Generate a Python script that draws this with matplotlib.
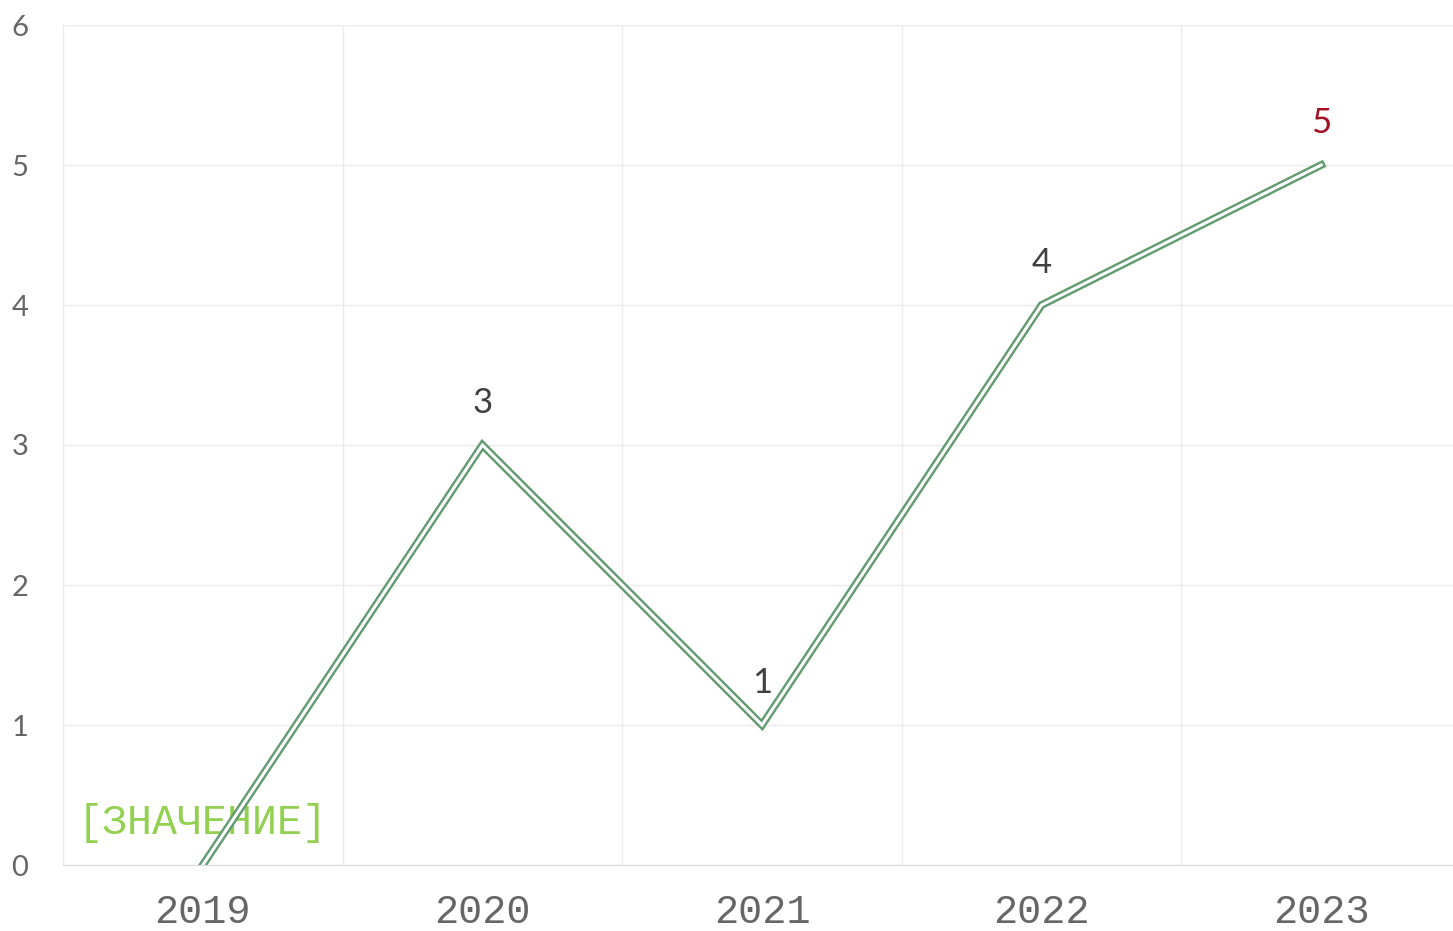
import numpy as np
import matplotlib.pyplot as plt

years = ['2019', '2020', '2021', '2022', '2023']
values = [0, 3, 1, 4, 5]
point_labels = ['[ЗНАЧЕНИЕ]', '3', '1', '4', '5']
label_colors = ['#92d050', '#404040', '#404040', '#404040', '#a50f21']

fig = plt.figure(figsize=(14.53, 9.31), dpi=100)
ax = fig.add_axes([63 / 1453, 1 - 865 / 931, (1461 - 63) / 1453, (865 - 25) / 931])

x = np.arange(len(years))

# double line: thick green with a thin white core
ax.plot(x, values, color='#5f9b6f', linewidth=5.6, solid_joinstyle='miter', zorder=3)
ax.plot(x, values, color='white', linewidth=2.2, solid_joinstyle='miter', zorder=4)

for i in range(len(values)):
    if i == 0:
        ax.annotate(point_labels[i], (x[i], values[i]), xytext=(0, 42), textcoords='offset pixels',
                    ha='center', va='center', color=label_colors[i], fontsize=30,
                    family='Liberation Mono', zorder=2)
    else:
        ax.annotate(point_labels[i], (x[i], values[i]), xytext=(0, 42), textcoords='offset pixels',
                    ha='center', va='center', color=label_colors[i], fontsize=25,
                    family='Lato', zorder=5)

ax.set_xlim(-0.5, len(years) - 0.5)
ax.set_ylim(0, 6)

ax.set_yticks(range(0, 7))
ax.set_xticks(x)
ax.set_xticklabels(years, family='Liberation Mono', fontsize=29, color='#666666')
ax.set_yticklabels([str(v) for v in range(0, 7)], family='Lato',
                   fontsize=21, color='#666666')

# vertical grid on category boundaries
ax.set_xticks(np.arange(-0.5, len(years) + 0.5, 1), minor=True)
ax.grid(True, which='minor', axis='x', color='#ebebeb', linewidth=1)
ax.grid(True, which='major', axis='y', color='#ebebeb', linewidth=1)
ax.tick_params(axis='both', which='both', length=0)
ax.tick_params(axis='x', pad=20)
ax.tick_params(axis='y', pad=31)
for lbl in ax.get_yticklabels():
    lbl.set_horizontalalignment('center')

for s in ['top', 'right', 'left']:
    ax.spines[s].set_visible(False)
ax.spines['bottom'].set_color('#d9d9d9')

fig.savefig('out.png', dpi=100)
